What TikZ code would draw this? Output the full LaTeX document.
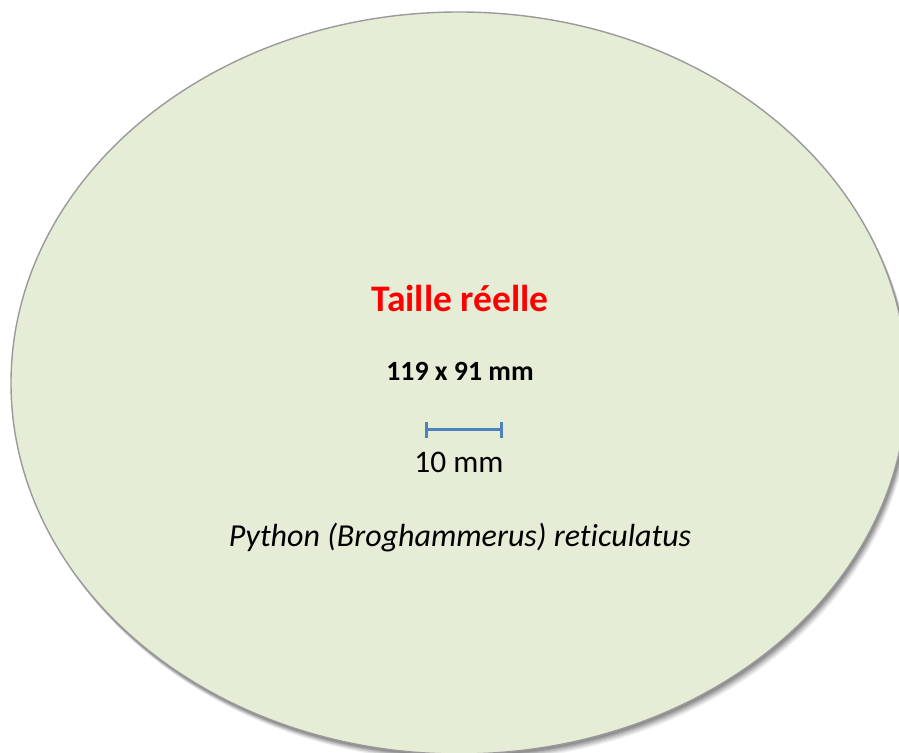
\documentclass[tikz,border=0pt]{standalone}
\usepackage{fontspec}
\setmainfont[Ligatures=NoCommon]{Carlito}
\definecolor{fillgreen}{HTML}{E5EDD7}
\definecolor{edgegray}{HTML}{9A9A9A}
\definecolor{barblue}{HTML}{4F81BD}
\definecolor{titlered}{HTML}{FF0000}
\tikzset{
  oval/.style={fill=fillgreen, draw=edgegray, line width=1.4pt},
  shadowring/.style={fill=black, draw=none},
  bar/.style={draw=barblue, line width=3pt},
  lbl/.style={anchor=base, inner sep=0pt, text=black}
}
\begin{document}
\begin{tikzpicture}[x=1pt,y=1pt]
\useasboundingbox (0,0) rectangle (899,752);
\begin{scope}
\clip (0,0) rectangle (899,752);
% soft drop shadow
\foreach \o/\a in {8/0.05,7/0.06,6/0.07,5/0.08,4/0.09,3/0.10,2/0.10}{
  \fill[shadowring, opacity=\a] (459+\o*0.6,369-\o) ellipse [x radius=448, y radius=371];
}
\path[oval] (459,369) ellipse [x radius=448, y radius=371];
\end{scope}
\node[lbl, text=titlered, font=\fontsize{37.5}{44}\selectfont\bfseries] (title) at (460,440) {Taille réelle};
\node[lbl, font=\fontsize{27.8}{33}\selectfont\bfseries] (size) at (460,371) {119 x 91 mm};
\coordinate (bl) at (426,322);
\coordinate (br) at (501,322);
\draw[bar] (bl) -- (br);
\draw[bar] ([yshift=-8]bl) -- ([yshift=8]bl);
\draw[bar] ([yshift=-8]br) -- ([yshift=8]br);
\node[lbl, font=\fontsize{31.4}{37}\selectfont] (ten) at (459,279) {10 mm};
\node[lbl, font=\fontsize{32}{38}\selectfont\itshape] (name) at (460,205) {Python (Broghammerus) reticulatus};
\end{tikzpicture}
\end{document}
